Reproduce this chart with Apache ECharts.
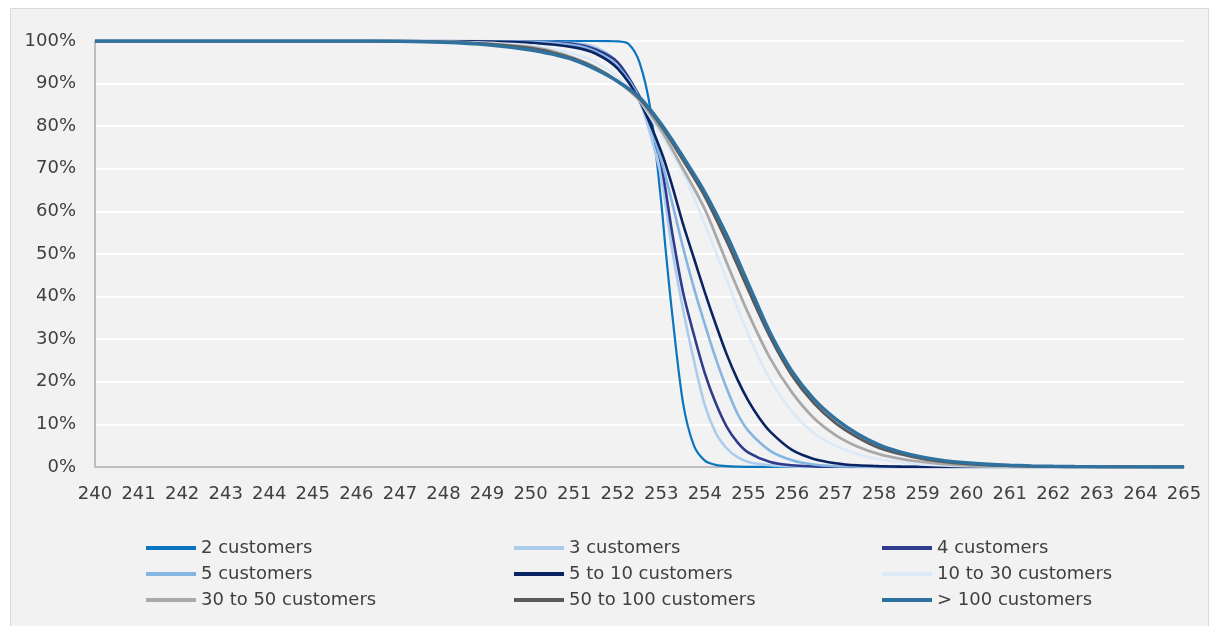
<!DOCTYPE html>
<html>
<head>
<meta charset="utf-8">
<script src="https://cdn.jsdelivr.net/npm/echarts@6/dist/echarts.min.js"></script>
<style>html,body{margin:0;padding:0;background:#fff;}#c{width:1221px;height:626px;}</style>
</head>
<body>
<div id="c"></div>
<script>
const xTicks = {min: 240, max: 265, step: 1};
const seriesNames = ['2 customers','3 customers','4 customers','5 customers','5 to 10 customers','10 to 30 customers','30 to 50 customers','50 to 100 customers','> 100 customers'];

const cust2 = [[240,100],[248,100],[251.5,100],[252,99.9],[252.25,99.3],[252.5,95],[252.75,84],[253,62],[253.1,51],[253.25,36],[253.5,15],[253.75,5],[254,1.5],[254.25,0.5],[254.5,0.2],[255,0.05],[256,0],[265,0]];
const cust3 = [[240,100],[248,100],[250,99.9],[251,99.5],[251.5,98.5],[252,95],[252.5,86],[252.75,78],[253,68],[253.25,51],[253.5,37],[253.75,25],[254,14.5],[254.25,8],[254.5,4.4],[254.75,2.3],[255,1.2],[255.5,0.4],[256,0.1],[257,0],[265,0]];
const cust4 = [[240,100],[248,100],[250,99.8],[251,99.3],[251.5,98],[252,95],[252.5,87],[252.75,81],[253,71],[253.25,55],[253.5,41],[253.75,31],[254,22],[254.25,15],[254.5,9.5],[254.75,5.8],[255,3.4],[255.5,1.2],[256,0.4],[256.5,0.15],[257,0.05],[258,0],[265,0]];
const cust5 = [[240,100],[248,100],[250,99.8],[251,99],[251.5,97.5],[252,94],[252.5,86.5],[253,72],[253.25,62],[253.5,51.5],[253.75,42],[254,33.5],[254.25,25.5],[254.5,18.5],[254.75,12.5],[255,8.5],[255.5,3.8],[256,1.6],[256.5,0.6],[257,0.2],[257.5,0.08],[258,0],[265,0]];
const cust5to10 = [[240,100],[247,100],[249,99.9],[250,99.6],[251,98.5],[251.5,97],[252,93.5],[252.5,86],[253,74],[253.25,66],[253.5,57],[253.75,49],[254,41],[254.25,33.5],[254.5,26.5],[254.75,20.5],[255,15.5],[255.25,11.5],[255.5,8.3],[256,4],[256.5,1.9],[257,0.9],[257.5,0.4],[258,0.2],[258.5,0.08],[259,0.03],[260,0],[265,0]];
const cust10to30 = [[240,100],[246,100],[248,99.9],[249,99.6],[250,99],[250.5,98.2],[251,97],[251.5,95],[252,91.5],[252.5,86],[253,78],[253.5,69],[254,57],[254.5,44],[255,31],[255.5,20.5],[256,13],[256.5,8],[257,5],[257.5,3],[258,1.8],[258.5,1.1],[259,0.6],[259.5,0.35],[260,0.2],[261,0.05],[262,0],[265,0]];
const cust30to50 = [[240,100],[246,100],[248,99.8],[249,99.4],[250,98.6],[250.5,97.6],[251,96],[251.5,93.8],[252,90.5],[252.5,86],[253,79],[253.5,70],[254,60.5],[254.5,48],[255,36],[255.5,25.5],[256,17.5],[256.5,11.5],[257,7.5],[257.5,4.8],[258,3],[258.5,1.9],[259,1.2],[259.5,0.7],[260,0.4],[260.5,0.25],[261,0.15],[262,0.05],[263,0],[265,0]];
const cust50to100 = [[240,100],[246,100],[248,99.8],[249,99.3],[250,98.3],[250.5,97.3],[251,95.8],[251.5,93.6],[252,90.6],[252.5,86.5],[253,80],[253.5,72],[254,63.5],[254.5,53],[255,41.5],[255.5,30.5],[256,21.5],[256.5,15],[257,10.3],[257.5,7],[258,4.5],[258.5,3],[259,1.9],[259.5,1.2],[260,0.75],[260.5,0.45],[261,0.28],[261.5,0.15],[262,0.08],[263,0.02],[264,0],[265,0]];
const cust100plus = [[240,100],[246,100],[247,99.95],[248,99.7],[249,99.1],[250,97.9],[250.5,96.9],[251,95.5],[251.5,93.3],[252,90.5],[252.5,86.8],[253,80.5],[253.5,72.8],[254,64.5],[254.5,54.5],[255,43],[255.5,31.5],[256,22.5],[256.5,16],[257,11.3],[257.5,7.8],[258,5.2],[258.5,3.5],[259,2.3],[259.5,1.5],[260,1.0],[260.5,0.65],[261,0.42],[261.5,0.27],[262,0.17],[262.5,0.1],[263,0.06],[264,0.02],[265,0]];

const allData = [cust2,cust3,cust4,cust5,cust5to10,cust10to30,cust30to50,cust50to100,cust100plus];
const colors = ['#0a74bf','#abcdeb','#2f3b8c','#85b5e0','#0a2463','#dce9f6','#a9a9a9','#5a5a5a','#30729f'];
const widths = [2.2,2.6,2.6,2.6,2.6,2.6,2.8,2.8,3.4];

const FONT = 'DejaVu Sans';
const chart = echarts.init(document.getElementById('c'), null, {renderer:'canvas'});

const series = allData.map((d,i)=>({
  name: seriesNames[i], type:'line', data:d, showSymbol:false, symbol:'none',
  smooth:0.3,
  lineStyle:{color:colors[i], width:widths[i]},
  itemStyle:{color:colors[i]}, emphasis:{disabled:true}, z: 3 + i
}));

const legendBase = {orient:'vertical', top:538, icon:'rect', itemWidth:50, itemHeight:4, itemGap:6, padding:0,
  textStyle:{fontFamily:FONT, fontSize:18, color:'#404040', lineHeight:20}, selectedMode:false};

chart.setOption({
  animation:false,
  backgroundColor:'#ffffff',
  graphic:[{type:'rect', z:-10, shape:{x:10.5, y:8.5, width:1198, height:640}, style:{fill:'#f2f2f2', stroke:'#d9d9d9', lineWidth:1}}],
  grid:{left:95, right:37, top:41, bottom:159, containLabel:false},
  legend:[
    Object.assign({}, legendBase, {left:146, data:[seriesNames[0],seriesNames[3],seriesNames[6]]}),
    Object.assign({}, legendBase, {left:514, data:[seriesNames[1],seriesNames[4],seriesNames[7]]}),
    Object.assign({}, legendBase, {left:882, data:[seriesNames[2],seriesNames[5],seriesNames[8]]})
  ],
  xAxis:{type:'value', min:xTicks.min, max:xTicks.max, interval:xTicks.step,
    axisLine:{show:true, lineStyle:{color:'#bfbfbf', width:2}}, axisTick:{show:false},
    splitLine:{show:false},
    axisLabel:{fontFamily:FONT, fontSize:18, color:'#404040', margin:18, showMinLabel:true, showMaxLabel:true}},
  yAxis:{type:'value', min:0, max:100, interval:10,
    axisLine:{show:true, lineStyle:{color:'#bfbfbf', width:2}}, axisTick:{show:false},
    splitLine:{show:true, lineStyle:{color:'#ffffff', width:2}},
    axisLabel:{fontFamily:FONT, fontSize:18, color:'#404040', margin:19, formatter:'{value}%'}},
  series: series
});
</script>
</body>
</html>
